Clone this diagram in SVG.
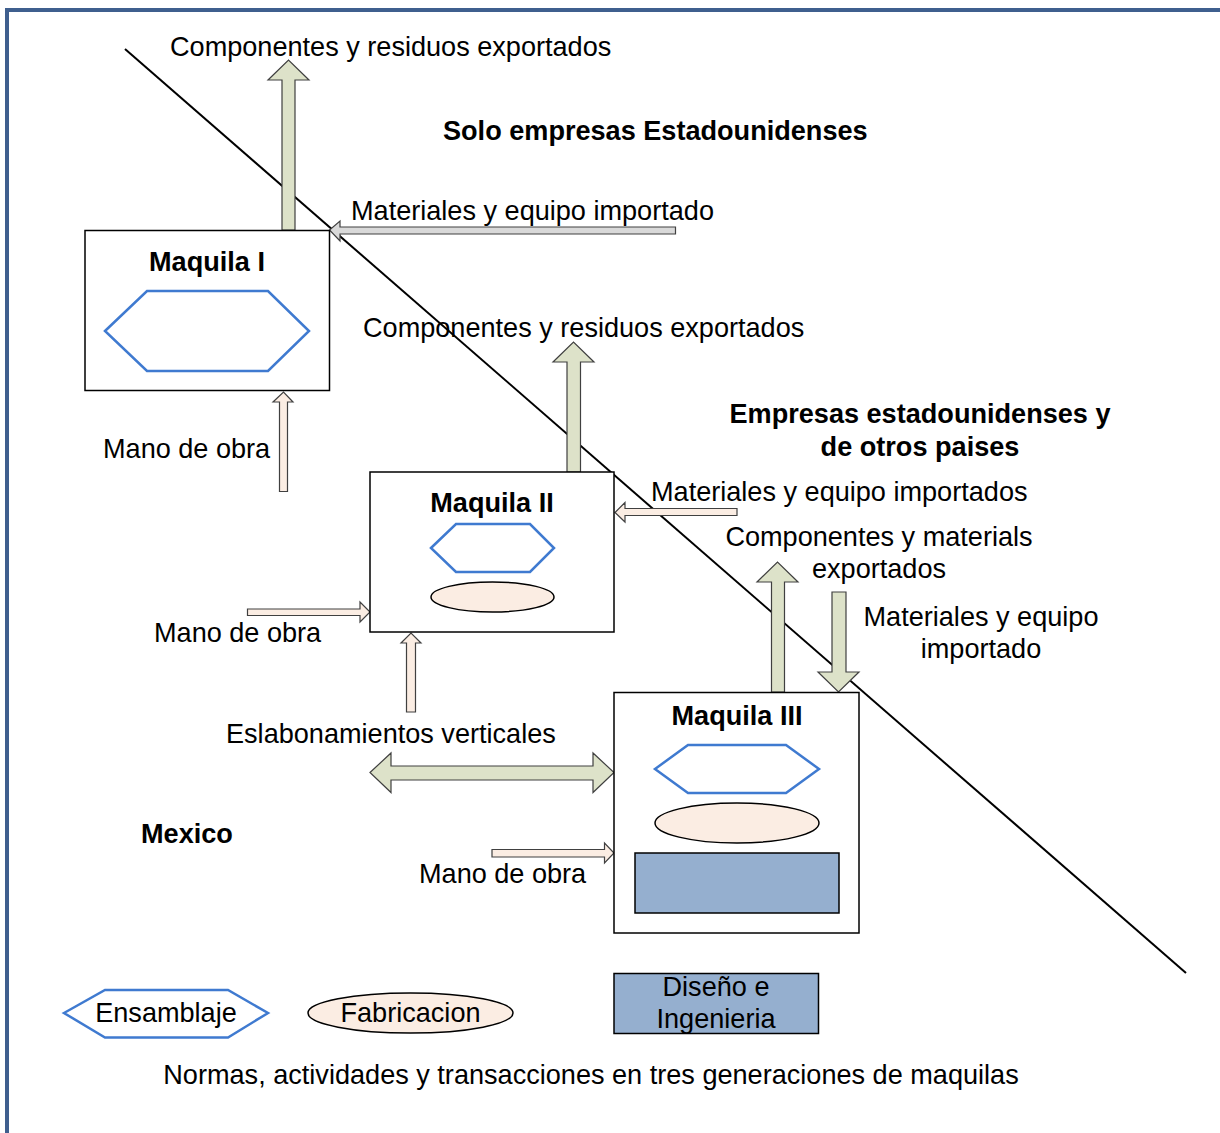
<svg xmlns="http://www.w3.org/2000/svg" width="1220" height="1133" viewBox="0 0 1220 1133">
<style>
text{font-family:"Liberation Sans",Arial,sans-serif;font-size:27.1px;fill:#000}
.b{font-weight:bold}
.m{text-anchor:middle}
.box{fill:#fff;stroke:#000;stroke-width:1.5}
.hex{fill:#fff;stroke:#3f7ad0;stroke-width:2.5}
.ell{fill:#fbede3;stroke:#000;stroke-width:1.5}
.de{fill:#95afcf;stroke:#000;stroke-width:1.5}
.ol{fill:#dde2c9;stroke:#404040;stroke-width:1.2}
.pe{fill:#fbede3;stroke:#404040;stroke-width:1.2}
.gr{fill:#d9d9d9;stroke:#404040;stroke-width:1.2}
</style>
<rect width="1220" height="1133" fill="#fff"/>
<rect x="7" y="10" width="1300" height="1300" fill="none" stroke="#3f5f8e" stroke-width="4"/>
<g id="divider">
<line x1="125" y1="49" x2="1186" y2="973" stroke="#000" stroke-width="2"/>
</g>
<g id="labels">
<text x="170" y="56">Componentes y residuos exportados</text>
<text x="443" y="140" class="b">Solo empresas Estadounidenses</text>
<text x="351" y="220">Materiales y equipo importado</text>
<text x="363" y="337">Componentes y residuos exportados</text>
<text x="103" y="458">Mano de obra</text>
<text x="920" y="423" class="b m">Empresas estadounidenses y</text>
<text x="920" y="456" class="b m">de otros paises</text>
<text x="651" y="501">Materiales y equipo importados</text>
<text x="879" y="546" class="m">Componentes y materials</text>
<text x="879" y="578" class="m">exportados</text>
<text x="981" y="626" class="m">Materiales y equipo</text>
<text x="981" y="658" class="m">importado</text>
<text x="154" y="642">Mano de obra</text>
<text x="226" y="743">Eslabonamientos verticales</text>
<text x="141" y="843" class="b">Mexico</text>
<text x="419" y="883">Mano de obra</text>
<text x="591" y="1084" class="m">Normas, actividades y transacciones en tres generaciones de maquilas</text>
</g>
<g id="connectors">
<path class="ol" d="M282,230 L282,80 L268,80 L288.5,60 L309,80 L295,80 L295,230 Z"/>
<path class="gr" d="M675.5,227 L340,227 L340,221 L329.5,230 L340,241 L340,234 L675.5,234 Z"/>
<path class="pe" d="M279.5,491.5 L279.5,402 L273,402 L283.5,392 L293,402 L287.5,402 L287.5,491.5 Z"/>
<path class="ol" d="M567,472 L567,362 L553,362 L573.5,342 L594,362 L580.5,362 L580.5,472 Z"/>
<path class="pe" d="M247.5,609 L360,609 L360,602 L370,612 L360,622 L360,615.5 L247.5,615.5 Z"/>
<path class="pe" d="M406.5,712 L406.5,643 L401,643 L411,633 L421,643 L415.5,643 L415.5,712 Z"/>
<path class="pe" d="M737,508.5 L625,508.5 L625,502.5 L615,512.5 L625,522 L625,515.5 L737,515.5 Z"/>
<path class="ol" d="M771.5,692 L771.5,582 L757,582 L777.5,562 L798,582 L784.5,582 L784.5,692 Z"/>
<path class="ol" d="M832,592 L832,672 L818,672 L838.5,692 L859,672 L846,672 L846,592 Z"/>
<path class="ol" d="M370,772.5 L391,753 L391,766 L593,766 L593,753 L614,772.5 L593,792.5 L593,780 L391,780 L391,792.5 Z"/>
<path class="pe" d="M492,849.5 L604.5,849.5 L604.5,843 L614,853 L604.5,863 L604.5,857 L492,857 Z"/>
</g>
<g id="maquila1">
<rect class="box" x="85" y="230.5" width="244.5" height="160"/>
<text x="207" y="271" class="b m">Maquila I</text>
<polygon class="hex" points="105,331 147,291 268,291 309,331 268,371 147,371"/>
</g>
<g id="maquila2">
<rect class="box" x="370" y="472" width="244" height="160"/>
<text x="492" y="512" class="b m">Maquila II</text>
<polygon class="hex" points="431,548 456,524 530,524 554,548 530,572 456,572"/>
<ellipse class="ell" cx="492.5" cy="597" rx="61.5" ry="15"/>
</g>
<g id="maquila3">
<rect class="box" x="614" y="692.5" width="245" height="240.5"/>
<text x="737" y="725" class="b m">Maquila III</text>
<polygon class="hex" points="655,769 688,745 786,745 819,769 786,793 688,793"/>
<ellipse class="ell" cx="737" cy="823" rx="82" ry="20"/>
<rect class="de" x="635" y="853" width="204" height="60"/>
</g>
<g id="legend-ensamblaje">
<polygon class="hex" points="64,1013 105,990 228,990 268,1013 228,1037.5 105,1037.5"/>
<text x="166" y="1022" class="m">Ensamblaje</text>
</g>
<g id="legend-fabricacion">
<ellipse class="ell" cx="410.5" cy="1013" rx="102.5" ry="20"/>
<text x="410.5" y="1022" class="m">Fabricacion</text>
</g>
<g id="legend-diseno">
<rect class="de" x="614" y="973.5" width="204.5" height="60"/>
<text x="716" y="996" class="m">Diseño e</text>
<text x="716" y="1028" class="m">Ingenieria</text>
</g>
</svg>
